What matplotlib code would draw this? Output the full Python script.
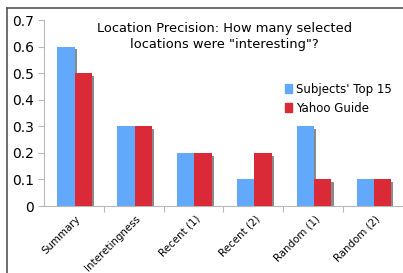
import matplotlib.pyplot as plt
import numpy as np
from matplotlib.lines import Line2D
from matplotlib.patches import Patch

categories = ["Summary", "Interetingness", "Recent (1)", "Recent (2)", "Random (1)", "Random (2)"]
top15 = [0.6, 0.3, 0.2, 0.1, 0.3, 0.1]
yahoo = [0.5, 0.3, 0.2, 0.2, 0.1, 0.1]
yticks = [0, 0.1, 0.2, 0.3, 0.4, 0.5, 0.6, 0.7]

blue = "#62a9fb"
red = "#db2a37"
shadow = "#8a8a8a"
axis_col = "#b8b8b8"

fig = plt.figure(figsize=(4.03, 2.73), dpi=100)
ax = fig.add_axes([44 / 403, 0.2454, 1 - 44 / 403, 0.6813])

x = np.arange(len(categories))
w = 0.29
dx, dy = 0.035, 0.01
ax.bar(x - w / 2 + dx + 0.015, top15, w, bottom=-dy, color=shadow, zorder=1)
ax.bar(x + w / 2 + dx + 0.015, yahoo, w, bottom=-dy, color=shadow, zorder=1)
ax.bar(x - w / 2 + 0.015, top15, w, color=blue, zorder=2)
ax.bar(x + w / 2 + 0.015, yahoo, w, color=red, zorder=3)

ax.set_xlim(-0.5, len(categories) - 0.5)
ax.set_ylim(0, 0.7)
ax.set_yticks(yticks)
ax.set_yticklabels(["0", "0.1", "0.2", "0.3", "0.4", "0.5", "0.6", "0.7"], fontsize=10)
ax.tick_params(axis="y", length=4, color=axis_col, pad=3)

ax.set_xticks(x[:-1] + 0.5)
ax.set_xticklabels([])
ax.tick_params(axis="x", length=4, color=axis_col)
for i, lab in enumerate(categories):
    ax.text(i + 0.02, -0.028, lab, rotation=45, ha="right", va="top",
            fontsize=7.4, rotation_mode="anchor", transform=ax.transData)

for s in ["top", "right"]:
    ax.spines[s].set_visible(False)
for s in ["left", "bottom"]:
    ax.spines[s].set_color(axis_col)
    ax.spines[s].set_linewidth(0.8)

ax.text(0.503, 0.99, 'Location Precision: How many selected\nlocations were "interesting"?',
        transform=ax.transAxes, ha="center", va="top", fontsize=9.4, linespacing=1.35)

handles = [Patch(color=blue), Patch(color=red)]
ax.legend(handles, ["Subjects' Top 15", "Yahoo Guide"], loc="upper left",
          bbox_to_anchor=(0.657, 0.688), frameon=False, fontsize=8.5,
          handlelength=0.65, handleheight=0.75, handletextpad=0.35, labelspacing=0.5,
          borderaxespad=0)

# outer frame
fig.add_artist(Line2D([7 / 403, 7 / 403], [0, 1 - 8 / 273], color="#555555", lw=1.2))
fig.add_artist(Line2D([7 / 403, 1], [1 - 8 / 273, 1 - 8 / 273], color="#555555", lw=1.2))

fig.savefig("out.png", dpi=100)
